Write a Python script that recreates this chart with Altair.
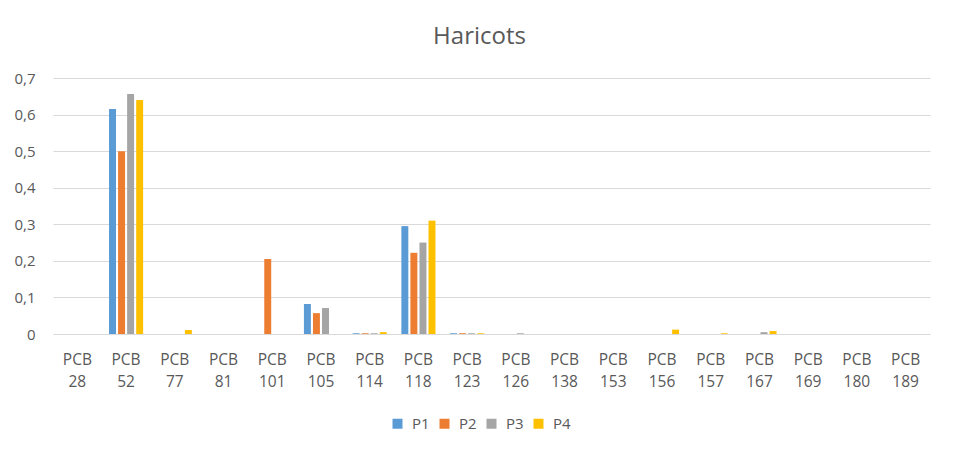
import altair as alt
import pandas as pd

categories = ["PCB 28", "PCB 52", "PCB 77", "PCB 81", "PCB 101", "PCB 105", "PCB 114", "PCB 118",
              "PCB 123", "PCB 126", "PCB 138", "PCB 153", "PCB 156", "PCB 157", "PCB 167",
              "PCB 169", "PCB 180", "PCB 189"]
series = ["P1", "P2", "P3", "P4"]
p1 = [0, 0.615, 0, 0, 0, 0.082, 0.002, 0.295, 0.002, 0, 0, 0, 0, 0, 0, 0, 0, 0]
p2 = [0, 0.500, 0, 0, 0.205, 0.057, 0.002, 0.222, 0.002, 0, 0, 0, 0, 0, 0, 0, 0, 0]
p3 = [0, 0.656, 0, 0, 0, 0.071, 0.002, 0.250, 0.002, 0.002, 0, 0, 0, 0, 0.005, 0, 0, 0]
p4 = [0, 0.640, 0.011, 0, 0, 0, 0.005, 0.310, 0.002, 0, 0, 0, 0.012, 0.002, 0.008, 0, 0, 0]
colors = ["#5B9BD5", "#ED7D31", "#A5A5A5", "#FFC000"]

rows = []
for name, vals in zip(series, [p1, p2, p3, p4]):
    for c, v in zip(categories, vals):
        rows.append({"cat": c, "serie": name, "val": v})
df = pd.DataFrame(rows)

FONT = "Open Sans"
TXT = "#595959"

chart = alt.Chart(df).mark_bar().encode(
    x=alt.X("cat:N", sort=categories,
            scale=alt.Scale(paddingInner=0.3, paddingOuter=0.15),
            axis=alt.Axis(title=None, labelAngle=0, labelExpr="split(datum.label, ' ')",
                          labelFontSize=15.5, labelColor=TXT, labelFont=FONT,
                          labelLineHeight=22, labelPadding=18, ticks=False,
                          domainColor="#D9D9D9", grid=False)),
    xOffset=alt.XOffset("serie:N", sort=series, scale=alt.Scale(paddingInner=0.23)),
    y=alt.Y("val:Q", scale=alt.Scale(domain=[0, 0.7], nice=False),
            axis=alt.Axis(title=None, values=[0, 0.1, 0.2, 0.3, 0.4, 0.5, 0.6, 0.7],
                          labelExpr="datum.value == 0 ? '0' : replace(format(datum.value, '.1f'), '.', ',')",
                          labelFontSize=15, labelColor=TXT, labelFont=FONT, labelPadding=18,
                          ticks=False, domain=False, gridColor="#D9D9D9", gridWidth=1)),
    color=alt.Color("serie:N", sort=series,
                    scale=alt.Scale(domain=series, range=colors),
                    legend=alt.Legend(title=None, orient="none", direction="horizontal",
                                      legendX=337, legendY=338, padding=0, symbolType="square",
                                      symbolSize=100, symbolStrokeWidth=0,
                                      labelFontSize=15, labelColor=TXT, labelFont=FONT,
                                      labelOffset=7, columnPadding=7)),
).properties(
    width=877, height=256,
    title=alt.TitleParams("Haricots", fontSize=24, font=FONT, fontWeight="normal",
                          color=TXT, anchor="middle", offset=22, dx=-12),
    autosize=alt.AutoSizeParams(type="none"),
    padding={"left": 45, "top": 70, "right": 21, "bottom": 112},
).configure_view(stroke=None)

chart.save("out.html", embed_options={"renderer": "svg", "actions": False})
